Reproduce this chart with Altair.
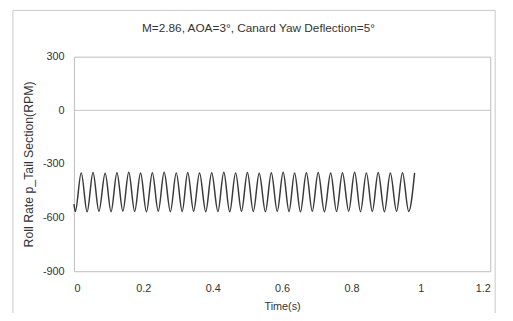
import altair as alt
import pandas as pd

# Extrema (time in s, roll rate in RPM)
start_t = [0.0]
start_v = [-525]
trough_t = [0.004, 0.038, 0.072, 0.107, 0.141, 0.175, 0.209, 0.243, 0.278, 0.312,
            0.345, 0.380, 0.415, 0.449, 0.483, 0.517, 0.552, 0.586, 0.620, 0.653,
            0.687, 0.722, 0.757, 0.792, 0.826, 0.860, 0.895, 0.930, 0.965]
trough_v = [-566, -568, -565, -567, -564, -566, -568, -565, -567, -566,
            -564, -567, -566, -568, -565, -566, -567, -565, -566, -568,
            -565, -567, -566, -564, -567, -566, -568, -565, -566]
peak_t = [0.021, 0.055, 0.090, 0.124, 0.158, 0.192, 0.226, 0.260, 0.295, 0.328,
          0.362, 0.397, 0.432, 0.466, 0.500, 0.534, 0.569, 0.603, 0.636, 0.670,
          0.704, 0.740, 0.774, 0.809, 0.843, 0.877, 0.912, 0.947, 0.982]
peak_v = [-350, -348, -352, -349, -347, -351, -349, -346, -350, -348,
          -351, -349, -347, -350, -348, -352, -349, -347, -350, -349,
          -348, -351, -349, -347, -350, -348, -351, -349, -350]

x_ticks = [0, 0.2, 0.4, 0.6, 0.8, 1.0, 1.2]
y_ticks = [-900, -600, -300, 0, 300]

t_all, v_all = list(start_t), list(start_v)
for a, b, c, d in zip(trough_t, trough_v, peak_t, peak_v):
    t_all += [a, c]
    v_all += [b, d]
df = pd.DataFrame({"t": t_all, "v": v_all})

FONT = "Liberation Sans"
TXT = "#333333"

x_enc = alt.X("t:Q", scale=alt.Scale(domain=[0, 1.2], nice=False),
              axis=alt.Axis(values=x_ticks, format="~g", title="Time(s)",
                            titleFontSize=11, titlePadding=7, labelPadding=12))
y_enc = alt.Y("v:Q", scale=alt.Scale(domain=[-900, 300], nice=False),
              axis=alt.Axis(values=y_ticks, labelExpr="'' + datum.value",
                            title="Roll Rate p_Tail Section(RPM)",
                            titleFontSize=12.5, titlePadding=7, labelPadding=10))

line = alt.Chart(df).mark_line(color="#3a3a3a", strokeWidth=1.5,
                               interpolate="monotone").encode(x=x_enc, y=y_enc)

zero = alt.Chart(pd.DataFrame({"z": [0]})).mark_rule(
    color="#c4c4c4", strokeWidth=1).encode(y=alt.Y("z:Q"))

frame = alt.Chart(pd.DataFrame({"a": [0]})).mark_rect(
    fill="white", fillOpacity=0, stroke="#c8c8c8", strokeWidth=1).encode(
    x=alt.value(-62), x2=alt.value(428), y=alt.value(-47), y2=alt.value(262))

chart = alt.layer(frame, zero, line).properties(
    width=423, height=218,
    background="white",
    padding={"left": 67, "top": 47, "right": 15, "bottom": 40},
    autosize=alt.AutoSizeParams(type="none"),
    title=alt.TitleParams("M=2.86, AOA=3°, Canard Yaw Deflection=5°",
                          fontSize=12, font=FONT, color=TXT,
                          fontWeight="normal", offset=0, dy=25, dx=-24),
).configure_view(stroke="#bdbdbd", strokeWidth=1).configure_axis(
    grid=False, domain=False, ticks=False,
    labelFont=FONT, titleFont=FONT, labelFontSize=11,
    labelColor=TXT, titleColor=TXT, titleFontWeight="normal",
)

chart.save("out.html", embed_options={"renderer": "svg", "actions": False})
